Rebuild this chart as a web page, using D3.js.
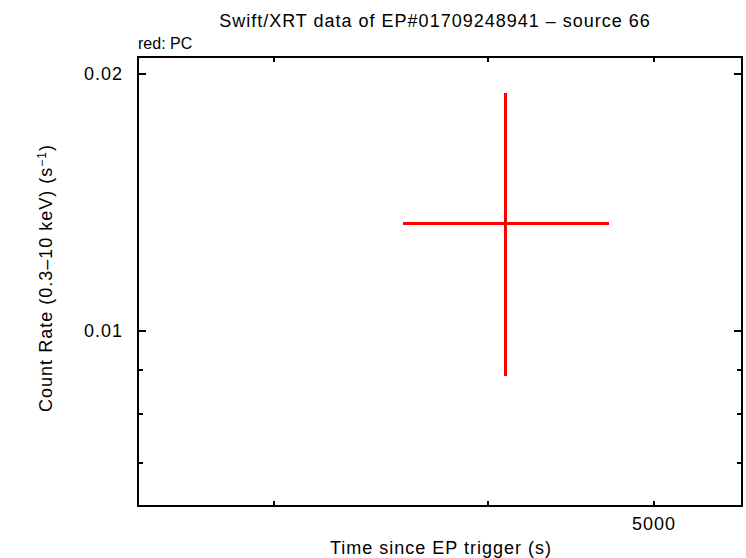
<!DOCTYPE html>
<html>
<head>
<meta charset="utf-8">
<script src="https://cdn.jsdelivr.net/npm/d3@7"></script>
<style>
  body { margin: 0; background: #fff; }
  text { font-family: "Liberation Sans", Arial, sans-serif; fill: #000; }
  .lab { font-size: 18px; letter-spacing: 1px; }
  line, rect { shape-rendering: crispEdges; }
</style>
</head>
<body>
<svg id="chart" width="746" height="558"></svg>
<script>
// data (one PC-mode point)
var times = [4092];
var timeLo = [3568];
var timeHi = [4707];
var rates = [0.01338];
var rateLo = [0.008857];
var rateHi = [0.0190];

var xMajor = [5000];
var xMinor = [3000, 4000];
var yMajor = [0.01, 0.02];
var yMinor = [0.007, 0.008, 0.009];

var svg = d3.select("#chart");
var pLeft = 138, pRight = 742, pTop = 57, pBottom = 506;

var x = d3.scaleLog().domain([2499, 5628]).range([pLeft, pRight]);
var y = d3.scaleLog().domain([0.00624, 0.02094]).range([pBottom, pTop]);
function px(v) { return Math.round(x(v)); }
function py(v) { return Math.round(y(v)); }

// title and legend note
svg.append("text")
    .attr("class", "lab")
    .attr("x", 435).attr("y", 27)
    .attr("text-anchor", "middle")
    .text("Swift/XRT data of EP#01709248941 \u2013 source 66");
svg.append("text")
    .attr("x", 138).attr("y", 49)
    .style("font-size", "16px")
    .text("red: PC");

// ticks, drawn inward on all four sides
var g = svg.append("g").attr("stroke", "#000").attr("stroke-width", 2);
function xTicks(vals, len) {
    vals.forEach(function (v) {
        g.append("line").attr("x1", px(v)).attr("x2", px(v)).attr("y1", pBottom).attr("y2", pBottom - len);
        g.append("line").attr("x1", px(v)).attr("x2", px(v)).attr("y1", pTop).attr("y2", pTop + len);
    });
}
function yTicks(vals, len) {
    vals.forEach(function (v) {
        g.append("line").attr("y1", py(v)).attr("y2", py(v)).attr("x1", pLeft).attr("x2", pLeft + len);
        g.append("line").attr("y1", py(v)).attr("y2", py(v)).attr("x1", pRight).attr("x2", pRight - len);
    });
}
xTicks(xMajor, 5);
xTicks(xMinor, 5);
yTicks(yMajor, 8);
yTicks(yMinor, 5);

g.append("rect")
    .attr("x", pLeft).attr("y", pTop)
    .attr("width", pRight - pLeft).attr("height", pBottom - pTop)
    .attr("fill", "none");

// tick labels
svg.selectAll(".xl").data(xMajor).enter().append("text")
    .attr("class", "lab")
    .attr("x", function (d) { return x(d); })
    .attr("y", 530)
    .attr("text-anchor", "middle")
    .text(function (d) { return d; });
svg.selectAll(".yl").data(yMajor).enter().append("text")
    .attr("class", "lab")
    .attr("x", 123)
    .attr("y", function (d) { return y(d) + 6; })
    .attr("text-anchor", "end")
    .text(function (d) { return d3.format(".2f")(d); });

// axis titles
svg.append("text")
    .attr("class", "lab")
    .attr("x", 441).attr("y", 554)
    .attr("text-anchor", "middle")
    .text("Time since EP trigger (s)");
var yl = svg.append("text")
    .attr("class", "lab")
    .attr("transform", "translate(52,278) rotate(-90)")
    .attr("text-anchor", "middle");
yl.append("tspan").text("Count Rate (0.3\u201310 keV) (s");
yl.append("tspan").attr("dy", -6).style("font-size", "12px").text("\u22121");
yl.append("tspan").attr("dy", 6).text(")");

// error crosses
var pts = svg.append("g").attr("stroke", "#ff0000").attr("stroke-width", 3);
times.forEach(function (t, i) {
    pts.append("line")
        .attr("x1", px(timeLo[i])).attr("x2", px(timeHi[i]))
        .attr("y1", py(rates[i])).attr("y2", py(rates[i]));
    pts.append("line")
        .attr("x1", px(t)).attr("x2", px(t))
        .attr("y1", py(rateLo[i])).attr("y2", py(rateHi[i]));
});
</script>
</body>
</html>
